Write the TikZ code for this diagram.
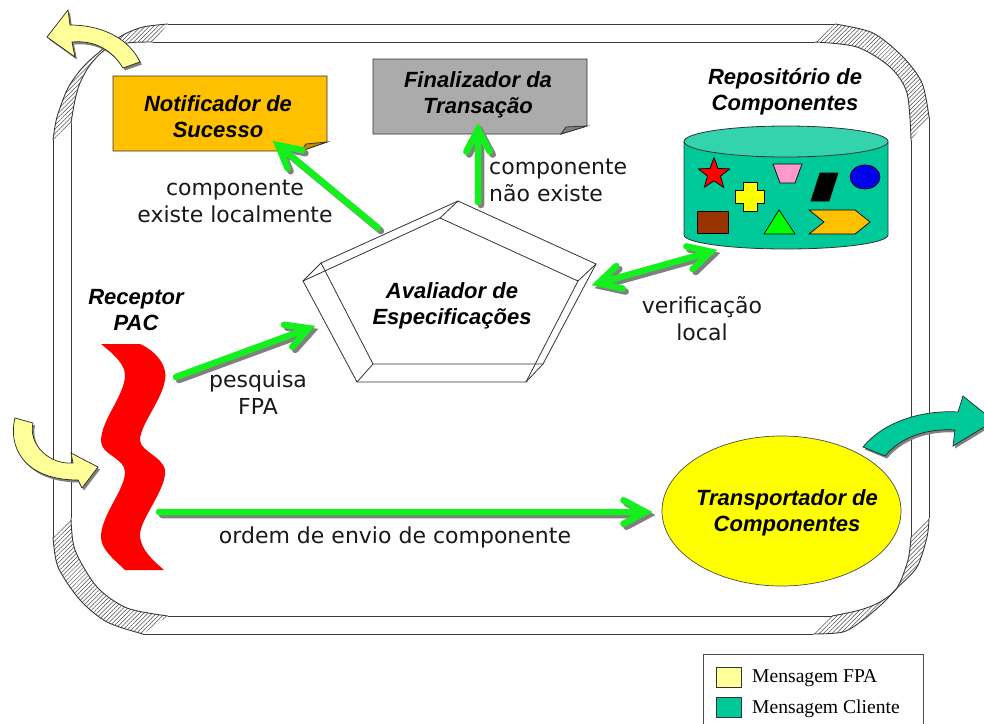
\documentclass[tikz,border=0pt]{standalone}
\usepackage{fontspec}
\setmainfont{Liberation Serif}
\newfontfamily\arialf{Liberation Sans}
\newfontfamily\verdf{DejaVu Sans}
\usetikzlibrary{patterns.meta,shapes.geometric,calc}
\definecolor{gcol}{HTML}{14F01E}
\definecolor{gshadow}{HTML}{808080}
\definecolor{fpay}{HTML}{FFFF99}
\definecolor{teal}{HTML}{00C999}
\definecolor{amber}{HTML}{FFC000}
\definecolor{framec}{HTML}{3A3A3A}
\definecolor{pureyellow}{RGB}{255,255,0}
\definecolor{purered}{RGB}{255,0,0}
\definecolor{puregreen}{RGB}{0,255,0}
\definecolor{pureblue}{RGB}{0,0,235}
\definecolor{toypink}{HTML}{FF99CC}
\definecolor{toybrown}{HTML}{993300}
\tikzset{
  hatchfill/.style={draw=none,pattern={Lines[angle=45,distance=3pt,line width=0.5pt]},pattern color=black!70},
  frameline/.style={draw=framec,line width=0.9pt},
  gstroke/.style={line width=6.5pt,line cap=round,line join=miter,miter limit=10},
  titlenode/.style={font=\arialf\bfseries\itshape\fontsize{22}{26}\selectfont,align=center,inner sep=0pt,text=black},
  labelnode/.style={font=\verdf\fontsize{22}{27}\selectfont,align=center,inner sep=0pt,text=black!90},
  outl/.style={draw=black!80,line width=0.8pt},
  legendtext/.style={font=\fontsize{19.6}{22}\selectfont,anchor=west,inner sep=0pt},
  swatch/.style={draw=black!80,line width=0.7pt,minimum width=25pt,minimum height=20pt,inner sep=0pt},
  wire/.style={draw=black!80,line width=0.8pt},
  curvearrow/.style={draw=black!85,line width=0.7pt},
  cshadow/.style={fill=gshadow,draw=none},
  toybox/.style={draw=black,line width=0.7pt,inner sep=0pt},
}
% head: a V with its apex set back so that the mitred point falls on the tip coordinate
\newcommand{\headpath}[2]{%
  ($(#2)!6.5pt!(#1)$) coordinate (hA)
  ($(hA)!25pt!28:(#1)$) -- (hA) -- ($(hA)!25pt!-28:(#1)$)}
\newcommand{\greenlink}[2]{%
  \foreach \colr/\xs/\ys in {gshadow/3pt/-3pt,gcol/0pt/0pt}{
    \draw[gstroke,color=\colr,transform canvas={xshift=\xs,yshift=\ys}] (#1) -- ($(#2)!6.5pt!(#1)$) \headpath{#1}{#2};
  }}
\newcommand{\greendouble}[2]{%
  \foreach \colr/\xs/\ys in {gshadow/3pt/-3pt,gcol/0pt/0pt}{
    \draw[gstroke,color=\colr,transform canvas={xshift=\xs,yshift=\ys}] ($(#1)!6.5pt!(#2)$) -- ($(#2)!6.5pt!(#1)$) \headpath{#1}{#2} \headpath{#2}{#1};
  }}
\def\yellowTop{(70,25) .. controls (97,25) and (127,35) .. (140,62) -- (123,68) .. controls (112,50) and (95,40) .. (72,42) -- (75,57) -- (47,37) -- (68,10) -- cycle}
\def\yellowLeft{(15,418) .. controls (8,445) and (22,480) .. (78,480) -- (82,488) -- (98,467) -- (71,453) -- (73,463) .. controls (50,465) and (28,445) .. (33,423) -- cycle}
\def\tealRight{(863,447) .. controls (885,420) and (925,410) .. (958,412) -- (963,396) -- (994,421) -- (953,446) -- (955,430) .. controls (925,428) and (900,438) .. (885,456) -- cycle}
\begin{document}
\begin{tikzpicture}[x=1pt,y=-1pt]
\useasboundingbox (0,0) rectangle (984,723);
\clip (0,0) rectangle (984,723);
\fill[white] (0,0) rectangle (984,723);

% frame: hatched corners
\path[hatchfill] plot[smooth] coordinates {(53,140) (57,117) (68,88) (83,67) (103,49) (123,35) (143,27) (168,24)}
  -- plot[smooth] coordinates {(153,42) (127,43) (105,50) (90,65) (80,83) (75,100) (71,123)} -- cycle;
\draw[frameline] plot[smooth] coordinates {(53,140) (57,117) (68,88) (83,67) (103,49) (123,35) (143,27) (168,24)};
\draw[frameline] plot[smooth] coordinates {(153,42) (127,43) (105,50) (90,65) (80,83) (75,100) (71,123)};

\path[hatchfill] plot[smooth] coordinates {(835,24) (873,33) (903,57) (922,83) (929,117)}
  -- plot[smooth] coordinates {(911,140) (907,93) (890,67) (857,47) (815,42)} -- cycle;
\draw[frameline] plot[smooth] coordinates {(835,24) (873,33) (903,57) (922,83) (929,117)};
\draw[frameline] plot[smooth] coordinates {(911,140) (907,93) (890,67) (857,47) (815,42)};

\path[hatchfill] plot[smooth] coordinates {(929,518) (927,537) (917,567) (897,588) (883,603) (863,620) (843,632) (813,634)}
  -- plot[smooth] coordinates {(832,616) (860,610) (880,602) (897,588) (908,560) (911,537)} -- cycle;
\draw[frameline] plot[smooth] coordinates {(929,518) (927,537) (917,567) (897,588) (883,603) (863,620) (843,632) (813,634)};
\draw[frameline] plot[smooth] coordinates {(832,616) (860,610) (880,602) (897,588) (908,560) (911,537)};

\path[hatchfill] plot[smooth] coordinates {(53,537) (58,567) (80,600) (107,622) (143,634)}
  -- plot[smooth] coordinates {(168,616) (127,608) (97,587) (75,550) (71,518)} -- cycle;
\draw[frameline] plot[smooth] coordinates {(53,537) (58,567) (80,600) (107,622) (143,634)};
\draw[frameline] plot[smooth] coordinates {(168,616) (127,608) (97,587) (75,550) (71,518)};

% frame: straight sides
\draw[frameline] (168,24) -- (835,24) (153,42) -- (815,42)
  (53,140) -- (53,537) (71,123) -- (71,518)
  (929,117) -- (929,518) (911,140) -- (911,537)
  (143,634) -- (813,634) (168,616) -- (832,616);

% Notificador
\draw[outl,fill=amber] (113,76) -- (327,76) -- (327,142) -- (301,151) -- (113,151) -- cycle;
\draw[outl,fill=amber!75!black] (301,151) -- (306,144) -- (327,142) -- cycle;
\node[titlenode] (notif) at (218,117) {Notificador de\\Sucesso};

% Finalizador
\draw[outl,fill=black!33] (373,59) -- (587,59) -- (587,126) -- (561,134) -- (373,134) -- cycle;
\draw[outl,fill=black!50] (561,134) -- (566,127) -- (587,126) -- cycle;
\node[titlenode] (final) at (478,95) {Finalizador da\\Transação};

% Repositorio
\node[titlenode] (repotitle) at (785,91.5) {Repositório de\\Componentes};
\draw[outl,fill=teal] (684,142) -- (684,235) arc[start angle=180,end angle=0,x radius=102,y radius=14] -- (888,142) -- cycle;
\draw[outl,fill=teal!80!white] (786,141.5) ellipse[x radius=102,y radius=15.5];
\node[toybox,fill=purered,shape=star,star points=5,star point ratio=2.4,minimum size=33pt] (tstar) at (714,174) {};
\draw[toybox,fill=pureyellow] (743,182) -- (757,182) -- (757,190) -- (764,190) -- (764,203) -- (757,203) -- (757,211) -- (743,211) -- (743,203) -- (735,203) -- (735,190) -- (743,190) -- cycle;
\draw[toybox,fill=toypink] (773,164) -- (802,164) -- (795,183) -- (780,183) -- cycle;
\draw[toybox,fill=black] (820,173) -- (838,173) -- (829,201) -- (811,201) -- cycle;
\draw[toybox,fill=pureblue] (865,177) ellipse[x radius=15,y radius=12];
\draw[toybox,fill=toybrown] (697,211) rectangle (728,233);
\draw[toybox,fill=puregreen] (779,210) -- (795,234) -- (764,234) -- cycle;
\draw[toybox,fill=amber] (809,210) -- (855,210) -- (870,222) -- (855,234) -- (809,234) -- (824,222) -- cycle;

% Avaliador: extruded pentagon
\draw[wire] (458,201) -- (596,264) -- (543,364) -- (373,364) -- (321,263) -- cycle;
\draw[wire] (440,218) -- (578,281) -- (526,382) -- (357,382) -- (303,281) -- cycle;
\draw[wire] (458,201) -- (440,218) (596,264) -- (578,281) (543,364) -- (526,382) (373,364) -- (357,382) (321,263) -- (303,281);
\node[titlenode] (aval) at (452,306) {Avaliador de\\Especificações};

% Receptor
\node[titlenode] (recep) at (136,310) {Receptor\\PAC};
\fill[purered] (101,344) -- (140,344) .. controls (158,352) and (168,368) .. (165,380)
  .. controls (162,400) and (140,425) .. (140,440) .. controls (140,452) and (168,458) .. (165,475)
  .. controls (162,495) and (140,520) .. (140,535) .. controls (140,550) and (155,562) .. (164,570)
  -- (125,570) .. controls (115,560) and (101,550) .. (101,537)
  .. controls (101,515) and (125,490) .. (125,472) .. controls (125,458) and (101,455) .. (101,441)
  .. controls (101,420) and (125,395) .. (125,375) .. controls (125,362) and (108,350) .. (101,344) -- cycle;

% Transportador
\node[draw=black!70,line width=0.7pt,fill=pureyellow,shape=ellipse,minimum width=239pt,minimum height=150pt,inner sep=0pt] (transp) at (781.5,511) {};
\node[titlenode] (transptext) at (787,512.5) {Transportador de\\Componentes};

% connector ends
\coordinate (avalNW) at (378,228);
\coordinate (notifS) at (273,141);
\coordinate (avalN) at (478,202);
\coordinate (finalS) at (478,123);
\coordinate (avalE) at (592,285);
\coordinate (repoSW) at (717,250);
\coordinate (recepE) at (176,377);
\coordinate (avalW) at (315,326);
\coordinate (recepS) at (159,512);
\coordinate (transpW) at (652,512);

\greenlink{avalNW}{notifS}
\greenlink{avalN}{finalS}
\greendouble{avalE}{repoSW}
\greenlink{recepE}{avalW}
\greenlink{recepS}{transpW}

% labels
\node[labelnode] (lab1) at (235,201.5) {componente\\existe localmente};
\node[labelnode,align=left,anchor=west] (lab2) at (489,180) {componente\\não existe};
\node[labelnode] (lab3) at (702,318.5) {verificação\\local};
\node[labelnode] (lab4) at (258,393) {pesquisa\\FPA};
\node[labelnode] (lab5) at (395,537) {ordem de envio de componente};

% message arrows
\begin{scope}[shift={(2,2.5)}]
\fill[cshadow] \yellowTop; \fill[cshadow] \yellowLeft; \fill[cshadow] \tealRight;
\end{scope}
\draw[curvearrow,fill=fpay] \yellowTop;
\draw[curvearrow,fill=fpay] \yellowLeft;
\draw[curvearrow,fill=teal] \tealRight;

% legend
\draw[draw=black!70,line width=0.9pt] (703,740) -- (703,654) -- (923,654) -- (923,740);
\node[swatch,fill=fpay,anchor=north west] (sw1) at (716,667) {};
\node[swatch,fill=teal,anchor=north west] (sw2) at (716,697) {};
\node[legendtext] (lg1) at (752,678) {Mensagem FPA};
\node[legendtext] (lg2) at (752,709) {Mensagem Cliente};
\end{tikzpicture}
\end{document}
